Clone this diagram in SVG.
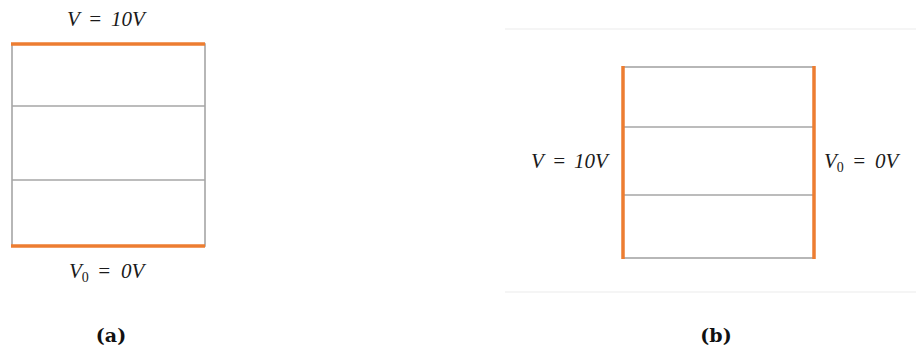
<svg xmlns="http://www.w3.org/2000/svg" width="916" height="352" viewBox="0 0 916 352">
<style>
.g{stroke:#a6a6a6;stroke-width:1.6;fill:none}
.o{stroke:#ed7d31;stroke-width:3.5;fill:none}
.f{stroke:#ececec;stroke-width:1.2}
.m{font-family:"Liberation Serif","DejaVu Serif",serif;font-style:italic;font-size:21px;fill:#1a1a1a}
.s{font-style:normal;font-size:14px}
.c{font-family:"DejaVu Serif","Liberation Serif",serif;font-weight:bold;font-size:19px;fill:#111}
</style>
<rect width="916" height="352" fill="#fff"/>
<g id="panel-a">
<rect class="g" x="12" y="44" width="193" height="202"/>
<line class="g" x1="12" y1="106" x2="205" y2="106"/>
<line class="g" x1="12" y1="180" x2="205" y2="180"/>
<line class="o" x1="11" y1="44" x2="205" y2="44"/>
<line class="o" x1="11" y1="246" x2="205" y2="246"/>
<text class="m" x="67" y="26">V <tspan x="88">=</tspan> <tspan x="111">10V</tspan></text>
<text class="m" x="69" y="278">V<tspan class="s" dy="4">0</tspan><tspan dy="-4"> </tspan><tspan x="97">=</tspan> <tspan x="121">0V</tspan></text>
<text class="c" x="111" y="342" text-anchor="middle">(a)</text>
</g>
<g id="panel-b">
<line class="f" x1="505" y1="29" x2="916" y2="29"/>
<line class="f" x1="505" y1="292" x2="916" y2="292"/>
<rect class="g" x="623" y="67" width="191" height="191"/>
<line class="g" x1="623" y1="127" x2="814" y2="127"/>
<line class="g" x1="623" y1="195" x2="814" y2="195"/>
<line class="o" x1="623" y1="66" x2="623" y2="259"/>
<line class="o" x1="814" y1="66" x2="814" y2="259"/>
<text class="m" x="531" y="168">V <tspan x="552">=</tspan> <tspan x="574">10V</tspan></text>
<text class="m" x="824" y="168">V<tspan class="s" dy="4">0</tspan><tspan dy="-4"> </tspan><tspan x="852">=</tspan> <tspan x="875">0V</tspan></text>
<text class="c" x="716" y="342" text-anchor="middle">(b)</text>
</g>
</svg>
